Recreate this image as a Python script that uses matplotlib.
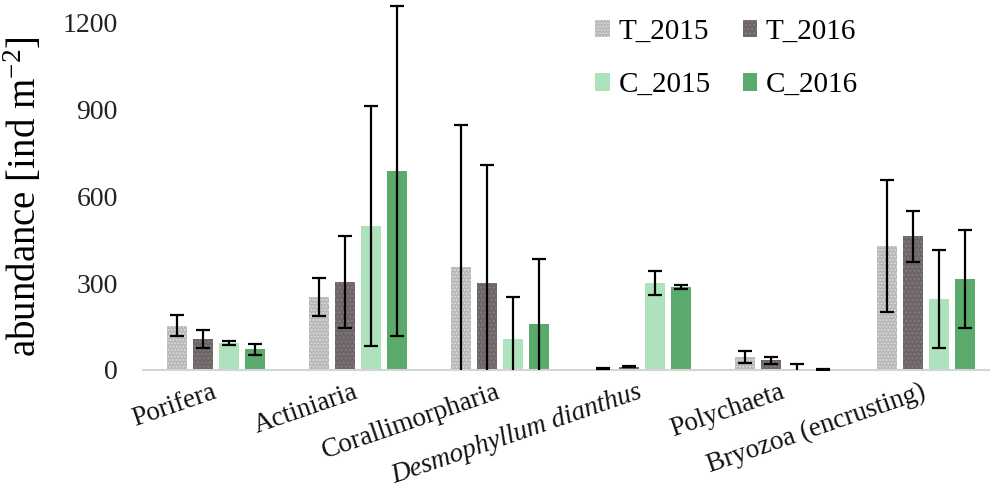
import numpy as np
import matplotlib.pyplot as plt
from matplotlib.patches import Patch

categories = ["Porifera", "Actiniaria", "Corallimorpharia", "Desmophyllum dianthus",
              "Polychaeta", "Bryozoa (encrusting)"]
series = ["T_2015", "T_2016", "C_2015", "C_2016"]

t2015 = [152, 252, 355, 5, 45, 428]
t2016 = [107, 303, 300, 12, 33, 462]
c2015 = [93, 497, 107, 300, 3, 245]
c2016 = [72, 686, 159, 286, 2, 314]

t2015_err = [36, 65, 490, 1, 21, 228]
t2016_err = [31, 158, 407, 3, 12, 88]
c2015_err = [6, 415, 145, 43, 16, 170]
c2016_err = [19, 570, 224, 7, 1, 170]

yticks = [0, 300, 600, 900, 1200]

values = [t2015, t2016, c2015, c2016]
errors = [t2015_err, t2016_err, c2015_err, c2016_err]

styles = [
    dict(facecolor="#b8b6b6", hatch=".....", edgecolor="#dedede"),
    dict(facecolor="#6e6666", hatch="....", edgecolor="#857e7e"),
    dict(facecolor="#aee2bd", hatch=None, edgecolor="#aee2bd"),
    dict(facecolor="#5aaa6b", hatch=None, edgecolor="#5aaa6b"),
]

plt.rcParams["font.family"] = ["Liberation Serif", "DejaVu Serif"]
plt.rcParams["hatch.linewidth"] = 0.9

fig = plt.figure(figsize=(9.9, 4.9), dpi=100)
ax = fig.add_axes([0.1444, 0.2449, 0.8556, 0.7551])

x = np.arange(len(categories))
width = 0.141
step = 0.183
offsets = (np.arange(4) - 1.5) * step

for i in range(4):
    st = styles[i]
    ax.bar(x + offsets[i], values[i], width=width, facecolor=st["facecolor"],
           hatch=st["hatch"], edgecolor=st["edgecolor"], linewidth=0, zorder=2)
    ax.errorbar(x + offsets[i], values[i], yerr=errors[i], fmt="none",
                ecolor="black", elinewidth=1.6, capsize=5, capthick=1.6, zorder=3)

ax.set_ylim(0, 1276)
ax.set_xlim(-0.514, 5.45)
ax.set_yticks(yticks)
ax.set_yticklabels([str(v) for v in yticks], fontsize=20, color="#222222")
ax.tick_params(axis="y", length=0, pad=18)
ax.tick_params(axis="x", length=0)
ax.set_xticks(x)
ax.set_xticklabels([])

for xi, name in zip(x, categories):
    style = "italic" if name.startswith("Desmophyllum") else "normal"
    ax.text(xi + 0.01, -95, name, rotation=19, rotation_mode="anchor",
            ha="right", va="baseline", fontsize=19.5, fontstyle=style,
            color="#111111")

for side in ["left", "right", "top"]:
    ax.spines[side].set_visible(False)
ax.spines["bottom"].set_color("#d4d4d4")
ax.spines["bottom"].set_linewidth(1.5)

ax.set_ylabel("abundance [ind m$^{\\mathregular{-2}}$]", fontsize=28)
ax.yaxis.set_label_coords(-0.116, 0.47)

handles = [Patch(facecolor=s["facecolor"], hatch=s["hatch"], edgecolor=s["edgecolor"],
                 linewidth=0) for s in styles]
order = [0, 2, 1, 3]
fig.legend([handles[k] for k in order], [series[k] for k in order], ncol=2,
           loc="upper left", bbox_to_anchor=(0.601, 0.962), frameon=False,
           borderpad=0, borderaxespad=0,
           fontsize=21, handlelength=0.5, handleheight=0.55, handletextpad=0.3,
           columnspacing=1.1, labelspacing=0.95)

fig.savefig("out.png", dpi=100)
